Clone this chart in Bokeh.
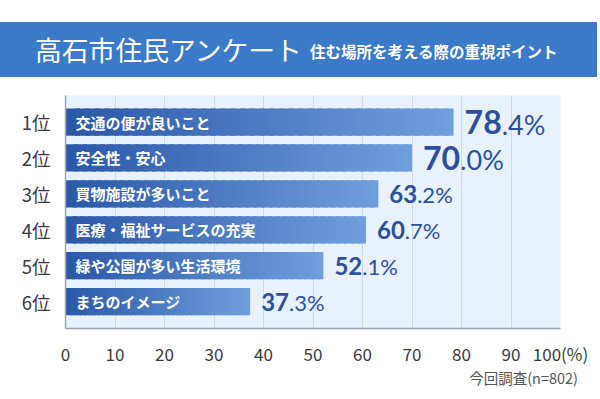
from bokeh.plotting import figure
from bokeh.models import Range1d, FixedTicker, ColumnDataSource, Div
from bokeh.layouts import column
from bokeh.embed import file_html
from bokeh.resources import INLINE
from bokeh.core.properties import value

# ---- data ----
ranks = ["1位", "2位", "3位", "4位", "5位", "6位"]
items = ["交通の便が良いこと", "安全性・安心", "買物施設が多いこと",
         "医療・福祉サービスの充実", "緑や公園が多い生活環境", "まちのイメージ"]
values = [78.4, 70.0, 63.2, 60.7, 52.1, 37.3]
x_ticks = [0, 10, 20, 30, 40, 50, 60, 70, 80, 90, 100]
x_tick_labels = ["0", "10", "20", "30", "40", "50", "60", "70", "80", "90", "100(%)"]
title_text = "高石市住民アンケート"
subtitle_text = "住む場所を考える際の重視ポイント"
note_text = "今回調査(n=802)"

JP = "Noto Sans CJK JP"
W = 600

# ---- banner (HTML) ----
banner_html = (
    '<div style="position:relative;width:600px;height:87px;overflow:hidden;">'
    '<div style="position:absolute;left:0;top:22px;width:597px;height:55px;background:#3b79c9;"></div>'
    '<div style="position:absolute;left:35px;top:35px;height:30px;line-height:30px;font-size:26.8px;'
    'color:white;white-space:nowrap;font-family:\'Noto Sans CJK JP\';">' + title_text + '</div>'
    '<div style="position:absolute;left:310px;top:42px;height:18px;line-height:18px;font-size:15.5px;'
    'font-weight:bold;color:white;white-space:nowrap;font-family:\'Noto Sans CJK JP\';">' + subtitle_text + '</div>'
    '</div>'
)
banner = Div(text=banner_html, width=W, height=87, margin=0)

# ---- main chart ----
p = figure(width=W, height=281, x_range=Range1d(0, 100), y_range=Range1d(6.75, 0.26),
           output_backend="svg", toolbar_location=None, margin=0,
           min_border_left=65, min_border_right=40, min_border_top=8, min_border_bottom=35)
p.background_fill_color = "#e7f2fc"
p.border_fill_color = "white"
p.outline_line_color = None

# gradient bars (segments along each bar)
N = 40
c0 = (43, 89, 168)
c1 = (112, 158, 219)
ys, lefts, rights, cols = [], [], [], []
for i, v in enumerate(values):
    for k in range(N):
        t = k / (N - 1)
        ys.append(i + 1)
        lefts.append(v * k / N)
        rights.append(min(v, v * (k + 1.5) / N))
        c = tuple(int(round(c0[j] + (c1[j] - c0[j]) * t)) for j in range(3))
        cols.append("#%02x%02x%02x" % c)
p.hbar(y=ys, left=lefts, right=rights, height=0.76, fill_color=cols, line_color=None)

# inner labels
pos = [i + 1 for i in range(len(values))]
p.text(x=[0] * len(items), y=pos, text=items, x_offset=10, text_font=value(JP),
       text_font_size="15px", text_font_style="bold", text_color="white",
       text_baseline="middle", text_align="left")

# value labels: integer part big, decimal part smaller
big_txt, small_txt, big_sz, small_sz, big_off, small_off, small_yoff = [], [], [], [], [], [], []
for i, v in enumerate(values):
    s = "%.1f" % v
    ip, dp = s.split(".")
    bs = 32 if i < 2 else 24
    ss = 27 if i < 2 else 22
    big_txt.append(ip)
    small_txt.append("." + dp + "%")
    big_sz.append("%dpx" % bs)
    small_sz.append("%dpx" % ss)
    big_off.append(11)
    small_off.append(11 + len(ip) * 0.58 * bs)
    small_yoff.append(0.39 * (bs - ss))
src = ColumnDataSource(dict(x=values, y=pos, bt=big_txt, st=small_txt, bsz=big_sz, ssz=small_sz,
                            bo=big_off, so=small_off, syo=small_yoff))
p.text(x="x", y="y", text="bt", x_offset="bo", y_offset=0, text_font_size="bsz",
       text_font=value("Lato"), text_font_style="bold", text_color="#2c4f9e",
       text_baseline="middle", text_align="left", source=src)
p.text(x="x", y="y", text="st", x_offset="so", y_offset="syo", text_font_size="ssz",
       text_font=value("Lato"), text_font_style="normal", text_color="#2c4f9e",
       text_baseline="middle", text_align="left", source=src)

# axes
p.xaxis.ticker = FixedTicker(ticks=x_ticks)
p.xaxis.major_label_overrides = {t: l for t, l in zip(x_ticks, x_tick_labels)}
p.yaxis.ticker = FixedTicker(ticks=pos)
p.yaxis.major_label_overrides = {i + 1: r for i, r in enumerate(ranks)}
for ax in (p.xaxis[0], p.yaxis[0]):
    ax.axis_line_color = "#9ba5b0"
    ax.axis_line_width = 1.5
    ax.major_tick_line_color = None
    ax.minor_tick_line_color = None
    ax.major_label_text_font = JP
    ax.major_label_text_color = "#3a3a3a"
p.xaxis.major_label_text_font_size = "17px"
p.xaxis.major_label_standoff = 6
p.yaxis.major_label_text_font_size = "18.5px"
p.yaxis.major_label_standoff = 9
p.ygrid.grid_line_color = None
p.xgrid.grid_line_color = "#cdd9e5"
p.xgrid.grid_line_width = 1

# ---- footnote (HTML) ----
note_html = (
    '<div style="position:relative;width:600px;height:31px;">'
    '<div style="position:absolute;right:22px;top:1px;line-height:17px;font-size:14.5px;'
    'color:#555555;white-space:nowrap;font-family:\'Noto Sans CJK JP\';">' + note_text + '</div>'
    '</div>'
)
note = Div(text=note_html, width=W, height=31, margin=0)

layout = column(banner, p, note, spacing=0)
open("out.html", "w").write(file_html(layout, INLINE))
